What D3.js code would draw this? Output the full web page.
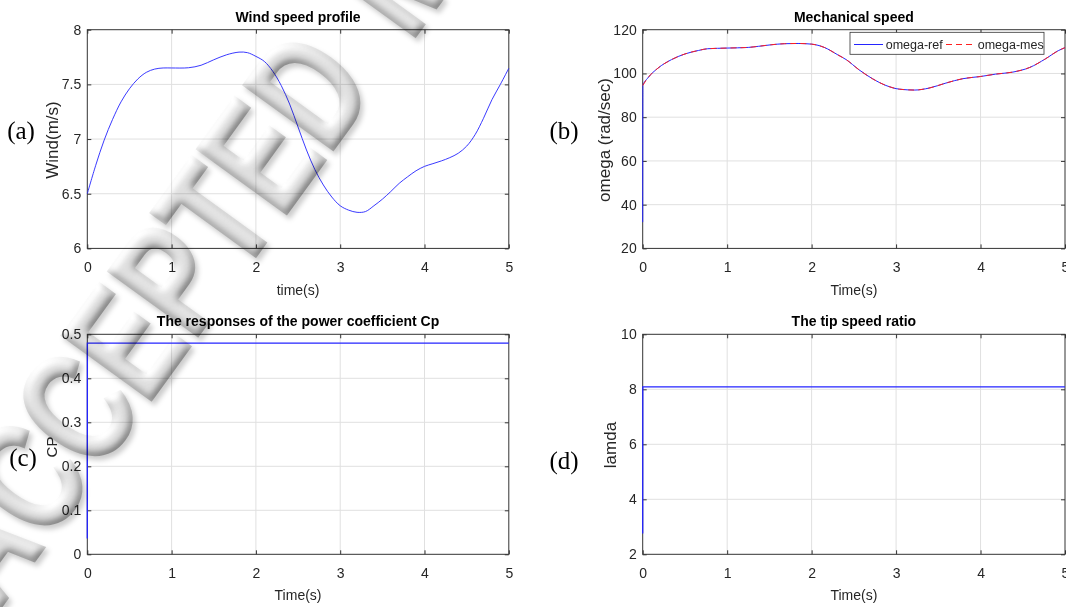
<!DOCTYPE html>
<html>
<head>
<meta charset="utf-8">
<script src="https://cdn.jsdelivr.net/npm/d3@7"></script>
<style>
  body { margin: 0; background: #fff; }
  svg { display: block; }
</style>
</head>
<body>
<svg id="fig" width="1066" height="607"></svg>
<script>
// ---- Data ---------------------------------------------------------------
// (a) wind speed profile, m/s
const timeWind = [0, 0.1, 0.2, 0.3, 0.4, 0.5, 0.6, 0.7, 0.8, 0.9, 1.0, 1.2, 1.35, 1.5, 1.65, 1.8, 1.9,
  2.0, 2.1, 2.2, 2.3, 2.4, 2.5, 2.6, 2.7, 2.8, 2.9, 3.0, 3.1, 3.2, 3.3, 3.4, 3.5, 3.6, 3.7, 3.8, 3.9,
  4.0, 4.1, 4.2, 4.3, 4.4, 4.5, 4.6, 4.7, 4.8, 4.9, 5.0];
const windSpeed = [6.5, 6.76, 6.99, 7.18, 7.34, 7.46, 7.55, 7.61, 7.64, 7.65, 7.65, 7.652, 7.675, 7.725, 7.77, 7.795, 7.79,
  7.756, 7.71, 7.62, 7.49, 7.32, 7.11, 6.90, 6.72, 6.58, 6.47, 6.39, 6.35, 6.33, 6.337, 6.39, 6.45, 6.52, 6.595, 6.655, 6.71,
  6.75, 6.775, 6.80, 6.83, 6.87, 6.935, 7.04, 7.19, 7.36, 7.50, 7.647];

// (b) mechanical speed, rad/s (reference and measured)
const timeOmegaRef = [0, 0.002, 0.06, 0.18, 0.34, 0.5, 0.66, 0.77, 1.0, 1.25, 1.37, 1.52, 1.68, 1.84, 2.0,
  2.15, 2.31, 2.41, 2.56, 2.72, 2.88, 3.04, 3.22, 3.39, 3.59, 3.79, 4.0, 4.18, 4.38, 4.58, 4.77, 4.92, 5.0];
const omegaRef = [32, 94.5, 97.9, 102.4, 106.3, 108.9, 110.5, 111.3, 111.6, 111.9, 112.4, 113.1, 113.6, 113.7, 113.4,
  111.9, 108.5, 106.3, 101.7, 97.6, 94.5, 92.8, 92.4, 93.3, 95.6, 97.6, 98.6, 99.7, 100.6, 102.7, 106.7, 110.4, 111.8];
const timeOmegaMes = [0, 0.06, 0.18, 0.34, 0.5, 0.66, 0.77, 1.0, 1.25, 1.37, 1.52, 1.68, 1.84, 2.0,
  2.15, 2.31, 2.41, 2.56, 2.72, 2.88, 3.04, 3.22, 3.39, 3.59, 3.79, 4.0, 4.18, 4.38, 4.58, 4.77, 4.92, 5.0];
const omegaMes = [94.5, 97.9, 102.4, 106.3, 108.9, 110.5, 111.3, 111.6, 111.9, 112.4, 113.1, 113.6, 113.7, 113.4,
  111.9, 108.5, 106.3, 101.7, 97.6, 94.5, 92.8, 92.4, 93.3, 95.6, 97.6, 98.6, 99.7, 100.6, 102.7, 106.7, 110.4, 111.8];

// (c) power coefficient and (d) tip speed ratio
const timeStep = [0, 0.001, 5];
const cpValues = [0.036, 0.48, 0.48];
const lambdaValues = [2.76, 8.09, 8.09];

// Tick values
const timeTicks = [0, 1, 2, 3, 4, 5];
const windTicks = [6, 6.5, 7, 7.5, 8];
const omegaTicks = [20, 40, 60, 80, 100, 120];
const cpTicks = [0, 0.1, 0.2, 0.3, 0.4, 0.5];
const lambdaTicks = [2, 4, 6, 8, 10];

const legendLabels = ["omega-ref", "omega-mes"];
const watermarkWords = ["ACCEPTED", "MANUSCRIPT"];

// ---- Drawing ------------------------------------------------------------
const SANS = '"Liberation Sans", Arial, Helvetica, sans-serif';
const SERIF = '"Liberation Serif", "Times New Roman", serif';
const AX = "#333333", GRID = "#e0e0e0", TXT = "#262626";
const BLUE = "#2424ff", RED = "#ff2020";

const svg = d3.select("#fig");
const fmt = d3.format("~g");

const panels = {
  a: { left: 87.3, right: 508.8, top: 29.7, bottom: 248.4, yDomain: [6, 8], yTicks: windTicks,
       title: "Wind speed profile", titleY: 22, xlabel: "time(s)", xlabelY: 295,
       ylabel: "Wind(m/s)", ylabelX: 52.7, ylabelY: 140, ylabelSize: 17, tag: "(a)", tagX: 21, tagY: 139 },
  b: { left: 642.7, right: 1065, top: 29.7, bottom: 248.4, yDomain: [20, 120], yTicks: omegaTicks,
       title: "Mechanical speed", titleY: 22, xlabel: "Time(s)", xlabelY: 295,
       ylabel: "omega (rad/sec)", ylabelX: 605, ylabelY: 140, ylabelSize: 17, tag: "(b)", tagX: 564, tagY: 139 },
  c: { left: 87.3, right: 508.8, top: 334.3, bottom: 554.3, yDomain: [0, 0.5], yTicks: cpTicks,
       title: "The responses of the power coefficient Cp", titleY: 326, xlabel: "Time(s)", xlabelY: 600,
       ylabel: "CP", ylabelX: 52, ylabelY: 447, ylabelSize: 15, tag: "(c)", tagX: 23, tagY: 466 },
  d: { left: 642.7, right: 1065, top: 334.3, bottom: 554.3, yDomain: [2, 10], yTicks: lambdaTicks,
       title: "The tip speed ratio", titleY: 326, xlabel: "Time(s)", xlabelY: 600,
       ylabel: "lamda", ylabelX: 611, ylabelY: 445, ylabelSize: 17, tag: "(d)", tagX: 564, tagY: 469 }
};

function styleAxis(sel) {
  sel.attr("font-size", 14).attr("font-family", SANS);
  sel.select(".domain").remove();
  sel.selectAll(".tick line").attr("stroke", AX).attr("stroke-width", 1);
  sel.selectAll(".tick text").attr("fill", TXT);
}

function makePanel(p) {
  const g = svg.append("g");
  const x = d3.scaleLinear().domain([0, 5]).range([p.left, p.right]);
  const y = d3.scaleLinear().domain(p.yDomain).range([p.bottom, p.top]);

  // grid
  g.append("g").selectAll("line").data(timeTicks.slice(1, -1)).join("line")
    .attr("x1", d => x(d)).attr("x2", d => x(d)).attr("y1", p.top).attr("y2", p.bottom)
    .attr("stroke", GRID).attr("stroke-width", 1);
  g.append("g").selectAll("line").data(p.yTicks.slice(1, -1)).join("line")
    .attr("x1", p.left).attr("x2", p.right).attr("y1", d => y(d)).attr("y2", d => y(d))
    .attr("stroke", GRID).attr("stroke-width", 1);

  // axes with inward ticks on all four sides
  g.append("g").attr("transform", `translate(0,${p.bottom})`)
    .call(d3.axisBottom(x).tickValues(timeTicks).tickSize(-4).tickSizeOuter(0).tickPadding(13.5).tickFormat(fmt))
    .call(styleAxis);
  g.append("g").attr("transform", `translate(${p.left},0)`)
    .call(d3.axisLeft(y).tickValues(p.yTicks).tickSize(-4).tickSizeOuter(0).tickPadding(6).tickFormat(fmt))
    .call(styleAxis);
  g.append("g").attr("transform", `translate(0,${p.top})`)
    .call(d3.axisTop(x).tickValues(timeTicks).tickSize(-4).tickSizeOuter(0).tickFormat(""))
    .call(styleAxis);
  g.append("g").attr("transform", `translate(${p.right},0)`)
    .call(d3.axisRight(y).tickValues(p.yTicks).tickSize(-4).tickSizeOuter(0).tickFormat(""))
    .call(styleAxis);
  g.append("rect").attr("x", p.left).attr("y", p.top)
    .attr("width", p.right - p.left).attr("height", p.bottom - p.top)
    .attr("fill", "none").attr("stroke", AX).attr("stroke-width", 1);

  const cx = (p.left + p.right) / 2;
  g.append("text").attr("x", cx).attr("y", p.titleY).attr("text-anchor", "middle")
    .attr("font-family", SANS).attr("font-size", 14).attr("font-weight", "bold").attr("fill", "#000")
    .text(p.title);
  g.append("text").attr("x", cx).attr("y", p.xlabelY).attr("text-anchor", "middle")
    .attr("font-family", SANS).attr("font-size", 14).attr("fill", TXT).text(p.xlabel);
  g.append("text").attr("transform", `translate(${p.ylabelX},${p.ylabelY}) rotate(-90)`)
    .attr("text-anchor", "middle").attr("dy", "0.3em")
    .attr("font-family", SANS).attr("font-size", p.ylabelSize).attr("fill", TXT).text(p.ylabel);
  g.append("text").attr("x", p.tagX).attr("y", p.tagY).attr("text-anchor", "middle")
    .attr("font-family", SERIF).attr("font-size", 25).attr("fill", "#000").text(p.tag);

  return { g, x, y };
}

function drawSeries(panel, xs, ys, opts) {
  const line = d3.line().x(d => panel.x(d[0])).y(d => panel.y(d[1])).curve(opts.curve || d3.curveLinear);
  panel.g.append("path").datum(d3.zip(xs, ys))
    .attr("d", line).attr("fill", "none")
    .attr("stroke", opts.color).attr("stroke-width", opts.width || 1)
    .attr("stroke-dasharray", opts.dash || null);
}

// (a)
const pa = makePanel(panels.a);
drawSeries(pa, timeWind, windSpeed, { color: BLUE, width: 0.9, curve: d3.curveCatmullRom.alpha(0.5) });

// (b)
const pb = makePanel(panels.b);
drawSeries(pb, timeOmegaRef, omegaRef, { color: BLUE, width: 1, curve: d3.curveMonotoneX });
drawSeries(pb, timeOmegaMes, omegaMes, { color: RED, width: 1, dash: "6,4", curve: d3.curveMonotoneX });

// legend for (b)
const lg = pb.g.append("g");
lg.append("rect").attr("x", 850).attr("y", 32.3).attr("width", 194).attr("height", 22)
  .attr("fill", "#fff").attr("stroke", AX).attr("stroke-width", 0.8);
lg.append("line").attr("x1", 854).attr("x2", 883).attr("y1", 44.5).attr("y2", 44.5)
  .attr("stroke", BLUE).attr("stroke-width", 1);
lg.append("text").attr("x", 885.7).attr("y", 49).attr("font-family", SANS).attr("font-size", 12.5)
  .attr("fill", TXT).text(legendLabels[0]);
lg.append("line").attr("x1", 946).attr("x2", 973).attr("y1", 44.5).attr("y2", 44.5)
  .attr("stroke", RED).attr("stroke-width", 1).attr("stroke-dasharray", "6,4");
lg.append("text").attr("x", 977.7).attr("y", 49).attr("font-family", SANS).attr("font-size", 12.5)
  .attr("fill", TXT).text(legendLabels[1]);

// (c)
const pc = makePanel(panels.c);
drawSeries(pc, timeStep, cpValues, { color: BLUE, width: 1.3 });

// (d)
const pd = makePanel(panels.d);
drawSeries(pd, timeStep, lambdaValues, { color: BLUE, width: 1.3 });

// ---- Diagonal embossed watermark ----------------------------------------
const defs = svg.append("defs");
const f = defs.append("filter").attr("id", "bevel")
  .attr("color-interpolation-filters", "sRGB")
  .attr("x", "-5%").attr("y", "-5%").attr("width", "110%").attr("height", "110%");
f.append("feGaussianBlur").attr("in", "SourceAlpha").attr("stdDeviation", 4).attr("result", "blur");
const dl = f.append("feDiffuseLighting").attr("in", "blur").attr("surfaceScale", 4)
  .attr("diffuseConstant", 1).attr("lighting-color", "#ffffff").attr("result", "light");
dl.append("feDistantLight").attr("azimuth", 235).attr("elevation", 58);
// compress the shading range into greys
f.append("feComposite").attr("in", "light").attr("in2", "light").attr("operator", "arithmetic")
  .attr("k1", 0).attr("k2", 0.7).attr("k3", 0).attr("k4", 0.22).attr("result", "soft");
f.append("feComposite").attr("in", "soft").attr("in2", "SourceAlpha").attr("operator", "in").attr("result", "lit");
f.append("feGaussianBlur").attr("in", "SourceAlpha").attr("stdDeviation", 2.5).attr("result", "sblur");
f.append("feOffset").attr("in", "sblur").attr("dx", 3).attr("dy", 4).attr("result", "soff");
f.append("feFlood").attr("flood-color", "#000").attr("flood-opacity", 0.2).attr("result", "sc");
f.append("feComposite").attr("in", "sc").attr("in2", "soff").attr("operator", "in").attr("result", "shadow");
const fm = f.append("feMerge");
fm.append("feMergeNode").attr("in", "shadow");
fm.append("feMergeNode").attr("in", "lit");

const wmAngle = -54, wmScaleX = 0.74, wmSize = 160;
const wm = svg.append("g").style("mix-blend-mode", "multiply").attr("filter", "url(#bevel)");
const wmInner = wm.append("g").attr("transform", `rotate(${wmAngle}) scale(${wmScaleX},1)`);
const w1 = wmInner.append("text").attr("x", 0).attr("y", 0)
  .attr("font-family", SANS).attr("font-weight", "bold").attr("font-size", wmSize)
  .attr("fill", "#000").attr("stroke", "#000").attr("stroke-width", 3).text(watermarkWords[0]);
const dStart = w1.node().getStartPositionOfChar(7).x;
const dAdvance = w1.node().getSubStringLength(7, 1);
wmInner.append("text").attr("x", dStart + 140 / wmScaleX).attr("y", 0)
  .attr("font-family", SANS).attr("font-weight", "bold").attr("font-size", wmSize)
  .attr("fill", "#000").attr("stroke", "#000").attr("stroke-width", 3).text(watermarkWords[1]);
// place the group so the final letter of the first word is centred at dCentre
const th = wmAngle * Math.PI / 180;
const dCentre = [307, 88];
const la = wmScaleX * (dStart + dAdvance / 2), lb = -0.716 * wmSize / 2;
const tx = dCentre[0] - (la * Math.cos(th) - lb * Math.sin(th));
const ty = dCentre[1] - (la * Math.sin(th) + lb * Math.cos(th));
wm.attr("transform", `translate(${tx},${ty})`);
</script>
</body>
</html>
